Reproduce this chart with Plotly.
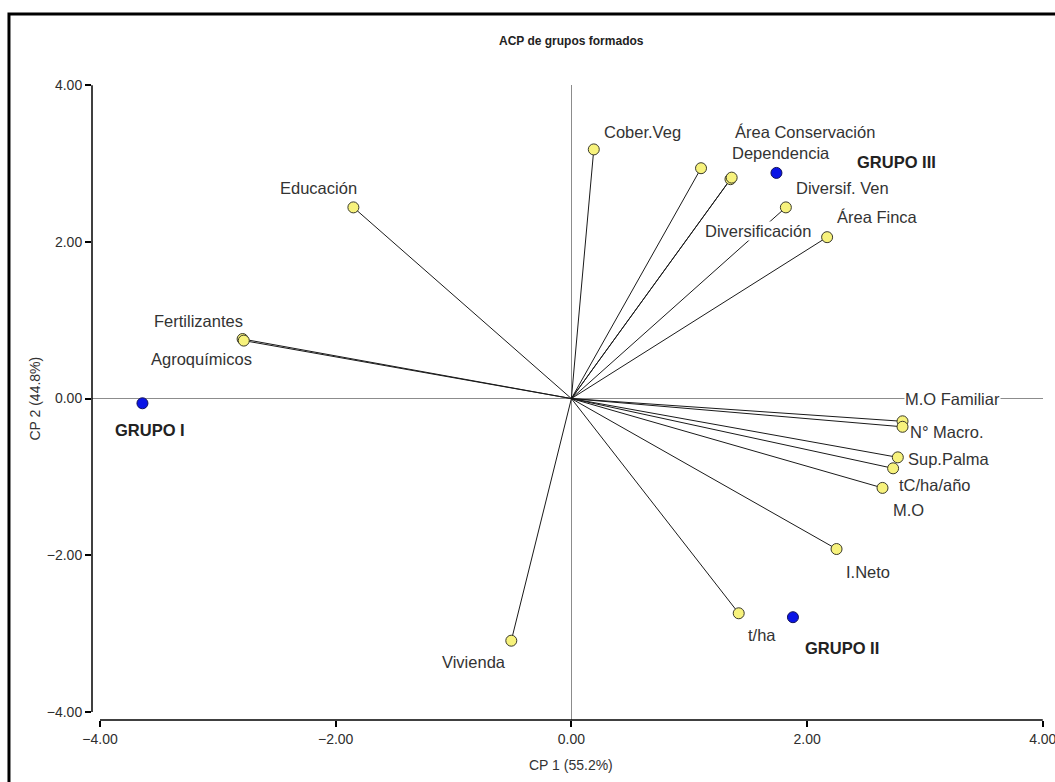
import plotly.graph_objects as go

# Variable loadings on the first two principal components
variables = ["Cober.Veg", "Área Conservación", "Dependencia", "Diversificación",
             "Diversif. Ven", "Área Finca", "Educación", "Fertilizantes",
             "Agroquímicos", "M.O Familiar", "N° Macro.", "Sup.Palma",
             "tC/ha/año", "M.O", "I.Neto", "t/ha", "Vivienda"]
var_cp1 = [0.19, 1.10, 1.35, 1.36, 1.82, 2.17, -1.85, -2.79,
           -2.78, 2.81, 2.81, 2.77, 2.73, 2.64, 2.25, 1.42, -0.51]
var_cp2 = [3.18, 2.94, 2.80, 2.82, 2.44, 2.06, 2.44, 0.76,
           0.74, -0.29, -0.36, -0.75, -0.89, -1.14, -1.92, -2.74, -3.09]

# Group centroids
groups = ["GRUPO I", "GRUPO II", "GRUPO III"]
grp_cp1 = [-3.64, 1.88, 1.74]
grp_cp2 = [-0.06, -2.79, 2.88]

tick_vals = [-4, -2, 0, 2, 4]
x_title = "CP 1 (55.2%)"
y_title = "CP 2 (44.8%)"
chart_title = "ACP de grupos formados"

# Label placement (pixel offsets from each marker)
var_label_shift = {
    "Cober.Veg": (49, 17), "Área Conservación": (104, 36), "Dependencia": (51, 26),
    "Diversificación": (26, -53), "Diversif. Ven": (57, 19), "Área Finca": (50, 20),
    "Educación": (-35, 19), "Fertilizantes": (-44, 18), "Agroquímicos": (-42, -18),
    "M.O Familiar": (50, 22), "N° Macro.": (44, -5), "Sup.Palma": (51, -2),
    "tC/ha/año": (42, -17), "M.O": (26, -22), "I.Neto": (31, -23),
    "t/ha": (23, -22), "Vivienda": (-37, -21),
}
grp_label_shift = {"GRUPO I": (8, -27), "GRUPO II": (49, -31), "GRUPO III": (120, 11)}

SANS = "Liberation Sans, Arial, sans-serif"
TEXT = "#333333"

fig = go.Figure()

# Vectors from the origin to each variable
seg_x, seg_y = [], []
for x, y in zip(var_cp1, var_cp2):
    seg_x += [0, x, None]
    seg_y += [0, y, None]
fig.add_trace(go.Scatter(x=seg_x, y=seg_y, mode="lines",
                         line=dict(color="#1a1a1a", width=1),
                         hoverinfo="skip", showlegend=False))

fig.add_trace(go.Scatter(x=var_cp1, y=var_cp2, mode="markers", text=variables,
                         marker=dict(size=11, color="#F7F27C",
                                     line=dict(color="#3a3a2a", width=1)),
                         cliponaxis=False, showlegend=False))

fig.add_trace(go.Scatter(x=grp_cp1, y=grp_cp2, mode="markers", text=groups,
                         marker=dict(size=11, color="#0A14E6",
                                     line=dict(color="#10105a", width=1)),
                         cliponaxis=False, showlegend=False))

annotations = []
for name, x, y in zip(variables, var_cp1, var_cp2):
    dx, dy = var_label_shift[name]
    annotations.append(dict(x=x, y=y, xref="x", yref="y", text=name, showarrow=False,
                            xshift=dx, yshift=dy, bgcolor="white", borderpad=0,
                            font=dict(family=SANS, size=16.5, color=TEXT)))
for name, x, y in zip(groups, grp_cp1, grp_cp2):
    dx, dy = grp_label_shift[name]
    annotations.append(dict(x=x, y=y, xref="x", yref="y", text="<b>" + name + "</b>",
                            showarrow=False, xshift=dx, yshift=dy, bgcolor="white",
                            borderpad=0,
                            font=dict(family=SANS, size=16.5, color="#222222")))

# Title and axis titles
annotations.append(dict(x=0, y=1.0, xref="x", yref="paper", yshift=53,
                        text="<b>" + chart_title + "</b>", showarrow=False,
                        font=dict(family=SANS, size=12, color="#222222")))
annotations.append(dict(x=0, y=0, xref="x", yref="paper", yshift=-55,
                        text=x_title, showarrow=False,
                        font=dict(family=SANS, size=14, color=TEXT)))
annotations.append(dict(x=0, y=0, xref="paper", yref="y", xshift=-67,
                        text=y_title, textangle=-90, showarrow=False,
                        font=dict(family=SANS, size=14, color=TEXT)))

shapes = [
    # axis lines spanning the tick range
    dict(type="line", xref="x", yref="paper", x0=-4, x1=4, y0=0, y1=0,
         line=dict(color="black", width=1.5)),
    dict(type="line", xref="paper", yref="y", x0=0, x1=0, y0=-4, y1=4,
         line=dict(color="black", width=1.5)),
    # outer frame
    dict(type="rect", xref="paper", yref="paper", x0=-0.0873, x1=1.2,
         y0=-0.3, y1=1.1118, line=dict(color="black", width=3)),
]

axis_style = dict(tickvals=tick_vals, tickformat=".2f", showgrid=False,
                  zeroline=True, zerolinecolor="#8c8c8c", zerolinewidth=1,
                  showline=False, ticks="outside", ticklen=6, tickcolor="black",
                  tickwidth=1.5, fixedrange=True, ticklabeloverflow="allow",
                  automargin=False,
                  tickfont=dict(family=SANS, size=14, color="#2e2e2e"))

fig.update_layout(
    width=1055, height=782,
    margin=dict(l=92, r=12, t=85, b=62, autoexpand=False),
    paper_bgcolor="white", plot_bgcolor="white",
    showlegend=False,
    annotations=annotations, shapes=shapes,
    font=dict(family=SANS, size=14, color=TEXT),
    xaxis=dict(range=[-4.068, 4.002], **axis_style),
    yaxis=dict(range=[-4.102, 4.002], **axis_style),
)

fig.write_html("out.html")
